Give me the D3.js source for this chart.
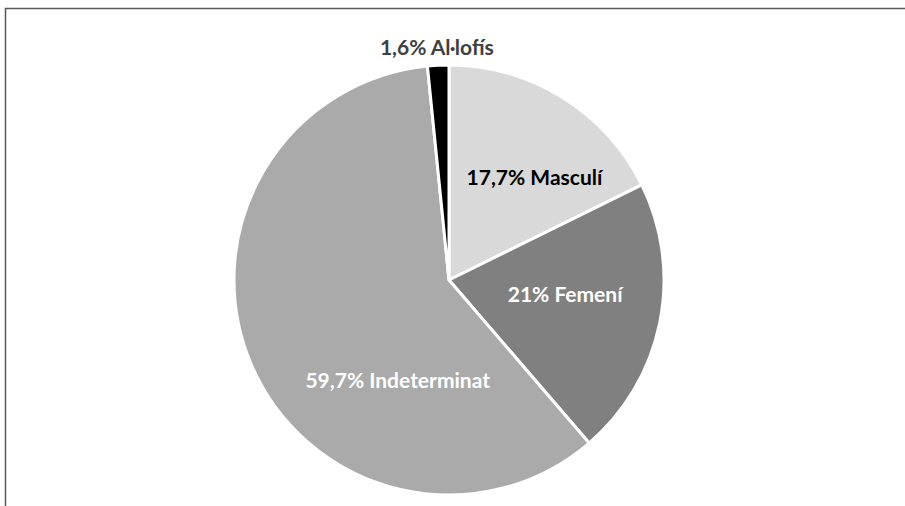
<!DOCTYPE html>
<html>
<head>
<meta charset="utf-8">
<script src="https://cdn.jsdelivr.net/npm/d3@7"></script>
<style>
  body { margin: 0; background: #fff; }
</style>
</head>
<body>
<div id="pie-chart"></div>
<script>
// chart data
let categories = ["Masculí", "Femení", "Indeterminat", "Al·lofís"];
let values = [17.7, 21, 59.7, 1.6];
let valueLabels = ["17,7%", "21%", "59,7%", "1,6%"];

// styling per slice
let colors = ["#d9d9d9", "#808080", "#aaaaaa", "#000000"];
let textColors = ["#000000", "#ffffff", "#ffffff", "#404040"];
// label anchors: angle in degrees (clockwise from 12 o'clock) and distance from centre
let labelAngles = [40, 97, 207, 357];
let labelRadii = [133, 117, 113, 233];

let width = 905, height = 506;
let cx = 449, cy = 280, radius = 215;

let svg = d3.select("#pie-chart")
    .append("svg")
    .attr("width", width)
    .attr("height", height);

// frame
svg.append("path")
    .attr("d", `M5.5,${height + 2} V8.5 H${width + 2}`)
    .attr("fill", "none")
    .attr("stroke", "#595959")
    .attr("stroke-width", 1.5);

let pie = d3.pie().sort(null).value(d => d);
let arcs = pie(values);

let arc = d3.arc()
    .innerRadius(0)
    .outerRadius(radius);

let g = svg.append("g")
    .attr("transform", "translate(" + cx + "," + cy + ")");

g.selectAll("path.slice")
    .data(arcs)
    .enter()
    .append("path")
    .attr("class", "slice")
    .attr("d", arc)
    .attr("fill", (d, i) => colors[i])
    .attr("stroke", "#ffffff")
    .attr("stroke-width", 3)
    .attr("stroke-linejoin", "round");

g.selectAll("text")
    .data(arcs)
    .enter()
    .append("text")
    .text((d, i) => valueLabels[i] + " " + categories[i])
    .attr("x", (d, i) => labelRadii[i] * Math.sin(labelAngles[i] * Math.PI / 180))
    .attr("y", (d, i) => -labelRadii[i] * Math.cos(labelAngles[i] * Math.PI / 180))
    .attr("dy", "0.35em")
    .attr("text-anchor", "middle")
    .attr("font-family", "Lato")
    .attr("font-weight", "bold")
    .attr("font-size", "21px")
    .attr("fill", (d, i) => textColors[i]);
</script>
</body>
</html>
